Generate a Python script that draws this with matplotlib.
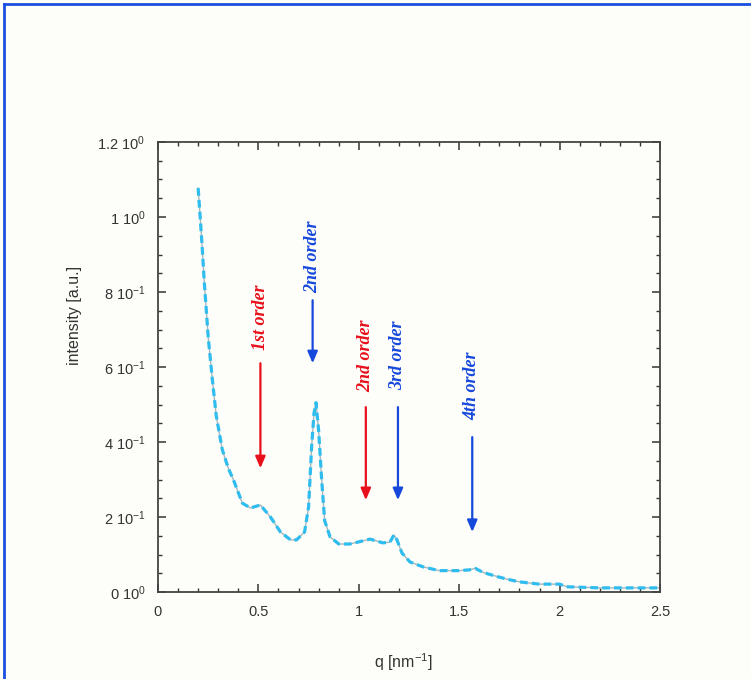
import matplotlib
matplotlib.use("Agg")
import matplotlib.pyplot as plt
from matplotlib.lines import Line2D
from matplotlib.ticker import MultipleLocator

plt.rcParams['font.family'] = ['Liberation Sans', 'DejaVu Sans']
plt.rcParams['mathtext.default'] = 'regular'

# ---- data ----
q = [0.20, 0.21, 0.22, 0.23, 0.25, 0.27, 0.29, 0.32, 0.35, 0.375, 0.40, 0.42, 0.46, 0.51,
     0.56, 0.61, 0.66, 0.69, 0.73, 0.75, 0.765, 0.777, 0.787, 0.80, 0.815, 0.83, 0.857,
     0.90, 0.955, 0.995, 1.056, 1.12, 1.155, 1.175, 1.19, 1.215, 1.255, 1.32, 1.40, 1.50,
     1.55, 1.58, 1.62, 1.69, 1.74, 1.80, 1.90, 2.00, 2.035, 2.2, 2.5]
intensity = [1.077, 1.00, 0.92, 0.83, 0.68, 0.57, 0.47, 0.38, 0.33, 0.30, 0.265, 0.237,
             0.224, 0.232, 0.20, 0.16, 0.139, 0.139, 0.16, 0.227, 0.387, 0.477, 0.505, 0.43,
             0.30, 0.19, 0.147, 0.128, 0.128, 0.133, 0.141, 0.131, 0.133, 0.152, 0.139,
             0.104, 0.08, 0.067, 0.057, 0.057, 0.059, 0.063, 0.052, 0.041, 0.034, 0.027,
             0.021, 0.021, 0.014, 0.011, 0.011]

xticks = [0, 0.5, 1, 1.5, 2, 2.5]
xticklabels = ["0", "0.5", "1", "1.5", "2", "2.5"]
yticks = [0, 0.2, 0.4, 0.6, 0.8, 1.0, 1.2]
yticklabels = ["0 10$^{0}$", "2 10$^{-1}$", "4 10$^{-1}$", "6 10$^{-1}$",
               "8 10$^{-1}$", "1 10$^{0}$", "1.2 10$^{0}$"]

# annotations: label, q position, arrow start, arrow tip, text bottom, colour
ann_labels = ["1st order", "2nd order", "2nd order", "3rd order", "4th order"]
ann_q = [0.51, 0.77, 1.035, 1.195, 1.565]
ann_start = [0.61, 0.778, 0.493, 0.493, 0.413]
ann_tip = [0.33, 0.61, 0.245, 0.245, 0.16]
ann_text = [0.645, 0.797, 0.533, 0.54, 0.459]
ann_color = ["#e8101a", "#1648dc", "#e8101a", "#1648dc", "#1648dc"]

bg = "#fdfdf9"
fig = plt.figure(figsize=(7.51, 6.79), dpi=100, facecolor=bg)
ax = fig.add_axes([158/751, 1-592/679, (660-158)/751, (592-142)/679])
ax.set_facecolor(bg)

ax.plot(q, intensity, color="#a3b6bd", lw=1.0, zorder=2)
ax.plot(q, intensity, color="#2ebdee", lw=2.3, ls=(0, (2.4, 1.3)), zorder=3)

for lab, xq, s, t, tb, c in zip(ann_labels, ann_q, ann_start, ann_tip, ann_text, ann_color):
    ax.annotate("", xy=(xq, t), xytext=(xq, s),
                arrowprops=dict(arrowstyle="-|>,head_length=0.7,head_width=0.3",
                                color=c, lw=1.6, shrinkA=0, shrinkB=0))
    ax.text(xq, tb, lab, rotation=90, ha='center', va='bottom', color=c,
            family=['Liberation Serif', 'DejaVu Serif'], fontweight='bold',
            fontstyle='italic', fontsize=13)

ax.set_xlim(0, 2.5)
ax.set_ylim(0, 1.2)
ax.set_xticks(xticks)
ax.set_xticklabels(xticklabels)
ax.set_yticks(yticks)
ax.set_yticklabels(yticklabels)
ax.xaxis.set_minor_locator(MultipleLocator(0.1))
ax.yaxis.set_minor_locator(MultipleLocator(0.05))
ax.tick_params(which='both', direction='in', top=True, right=True,
               color='#333333', labelcolor='#333333', labelsize=10.5)
ax.tick_params(which='major', length=6, width=1.1, pad=9)
ax.tick_params(which='minor', length=3, width=1.0)
for sp in ax.spines.values():
    sp.set_color('#444444')
    sp.set_linewidth(1.3)

fig.text(75/751, 1-315/679, "intensity [a.u.]", rotation=90, ha='center', va='center',
         fontsize=11.5, color='#333333')
fig.text(403/751, 1-662/679, "q [nm$^{-1}$]", ha='center', va='center',
         fontsize=11.5, color='#333333')

# blue frame lines (top and left)
fig.add_artist(Line2D([4/751, 4/751], [0, 1-4/679], color="#1a4fe0", lw=2,
                      transform=fig.transFigure))
fig.add_artist(Line2D([4/751, 1], [1-4/679, 1-4/679], color="#1a4fe0", lw=2,
                      transform=fig.transFigure))

fig.savefig("out.png", dpi=100, facecolor=bg)
